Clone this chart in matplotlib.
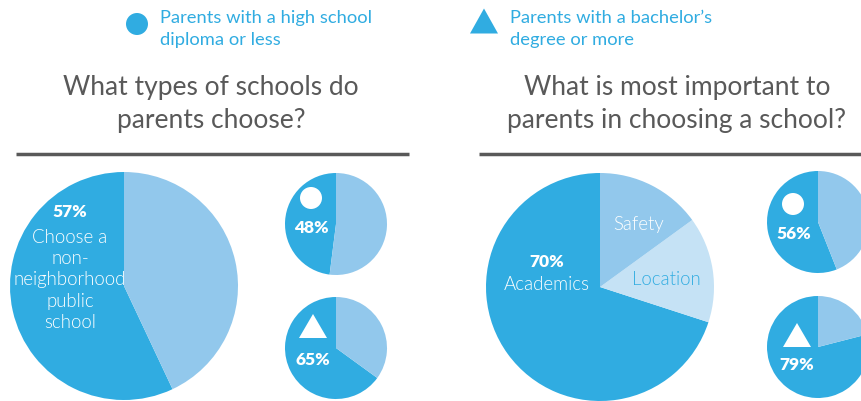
import matplotlib.pyplot as plt
from matplotlib.patches import Circle, Polygon

plt.rcParams['font.family'] = ['Lato', 'DejaVu Sans']

# 데이터
choice_all = [57, 43]
choice_hs = [48, 52]
choice_ba = [65, 35]
priority_labels = ['Academics', 'Location', 'Safety']
priority_all = [70, 15, 15]
priority_hs = [56, 44]
priority_ba = [79, 21]

DARK = '#30ACE1'
LIGHT = '#92C8EC'
LIGHTER = '#C5E2F5'
GRAY = '#595959'
H = 402


def Y(py):
    # 픽셀 좌표(위에서 아래) -> 데이터 좌표
    return H - py


fig = plt.figure(figsize=(8.62, 4.02), dpi=100)
ax = fig.add_axes([0, 0, 1, 1])


def pie(values, colors, cx, cy, r):
    ax.pie(values, colors=colors, startangle=90, counterclock=True,
           center=(cx, Y(cy)), radius=r, wedgeprops=dict(linewidth=0))


def circle_mark(x, y, r, color):
    ax.add_patch(Circle((x, Y(y)), r, facecolor=color, edgecolor='none', zorder=5))


def tri_mark(x, y, w, h, color):
    pts = [(x - w / 2, Y(y + h / 2)), (x + w / 2, Y(y + h / 2)), (x, Y(y - h / 2))]
    ax.add_patch(Polygon(pts, closed=True, facecolor=color, edgecolor='none', zorder=5))


def pct(x, y, v):
    ax.text(x, Y(y), f'{v}%', color='white', fontsize=12.5, fontweight=800,
            ha='center', va='center')


# 범례
circle_mark(137, 25, 11, DARK)
ax.text(160, Y(29), 'Parents with a high school\ndiploma or less', color=DARK,
        fontsize=13.2, ha='left', va='center', linespacing=1.42)
tri_mark(484, 22, 28, 25, DARK)
ax.text(510, Y(29), 'Parents with a bachelor\u2019s\ndegree or more', color=DARK,
        fontsize=13.2, ha='left', va='center', linespacing=1.42)

# 제목
ax.text(211, Y(104), 'What types of schools do\nparents choose?', color=GRAY,
        fontsize=19, fontweight=400, ha='center', va='center', linespacing=1.36)
ax.text(677, Y(104), 'What is most important to\nparents in choosing a school?', color=GRAY,
        fontsize=19, fontweight=400, ha='center', va='center', linespacing=1.36)
ax.plot([16, 409], [Y(155), Y(155)], color=GRAY, lw=2.5, solid_capstyle='butt')
ax.plot([479, 862], [Y(155), Y(155)], color=GRAY, lw=2.5, solid_capstyle='butt')

# 왼쪽 파이
pie(choice_all, [DARK, LIGHT], 124, 287, 114)
pie(choice_hs, [DARK, LIGHT], 336, 225, 51)
pie(choice_ba, [DARK, LIGHT], 336, 349, 51)

pct(70, 212, choice_all[0])
ax.text(70, Y(280), 'Choose a\nnon-\nneighborhood\npublic\nschool', color='white',
        fontsize=13.4, fontweight=300, ha='center', va='center', linespacing=1.32)
circle_mark(311, 199, 11, 'white')
pct(311, 228, choice_hs[0])
tri_mark(313, 327, 28, 24, 'white')
pct(313, 360, choice_ba[0])

# 오른쪽 파이
pie(priority_all, [DARK, LIGHTER, LIGHT], 600, 288, 114)
pie(priority_hs, [DARK, LIGHT], 818, 223, 51)
pie(priority_ba, [DARK, LIGHT], 818, 348, 51)

pct(547, 262, priority_all[0])
ax.text(547, Y(285), priority_labels[0], color='white', fontsize=13.4,
        fontweight=300, ha='center', va='center')
ax.text(666, Y(280), priority_labels[1], color=DARK, fontsize=13.4,
        fontweight=300, ha='center', va='center')
ax.text(639, Y(225), priority_labels[2], color='white', fontsize=13.4,
        fontweight=300, ha='center', va='center')
circle_mark(793, 205, 11, 'white')
pct(794, 234, priority_hs[0])
tri_mark(797, 336, 28, 24, 'white')
pct(797, 365, priority_ba[0])

ax.set_xlim(0, 862)
ax.set_ylim(0, H)
ax.set_aspect('auto')
ax.axis('off')

fig.savefig('out.png', dpi=100, facecolor='white')
